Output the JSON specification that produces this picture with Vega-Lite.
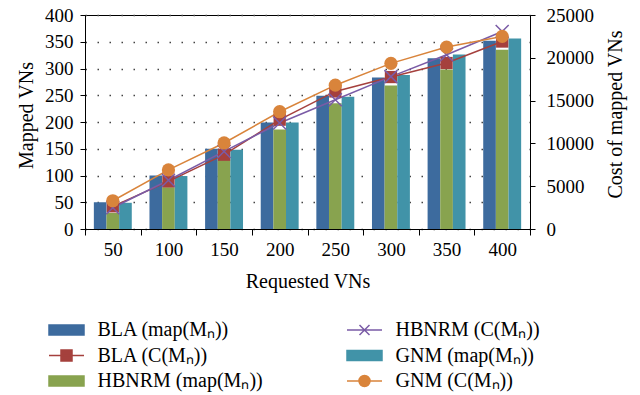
{
  "$schema": "https://vega.github.io/schema/vega-lite/v6.json",
  "width": 445,
  "height": 214,
  "autosize": {"type": "none"},
  "padding": {"left": 85, "top": 15, "right": 110, "bottom": 166},
  "background": "white",
  "datasets": {
    "bars": [
      {"n": 50, "series": "BLA (map(Mₙ))", "mapped": 50},
      {"n": 100, "series": "BLA (map(Mₙ))", "mapped": 100},
      {"n": 150, "series": "BLA (map(Mₙ))", "mapped": 150},
      {"n": 200, "series": "BLA (map(Mₙ))", "mapped": 199},
      {"n": 250, "series": "BLA (map(Mₙ))", "mapped": 249},
      {"n": 300, "series": "BLA (map(Mₙ))", "mapped": 283},
      {"n": 350, "series": "BLA (map(Mₙ))", "mapped": 319},
      {"n": 400, "series": "BLA (map(Mₙ))", "mapped": 352},
      {"n": 50, "series": "HBNRM (map(Mₙ))", "mapped": 30},
      {"n": 100, "series": "HBNRM (map(Mₙ))", "mapped": 78},
      {"n": 150, "series": "HBNRM (map(Mₙ))", "mapped": 130},
      {"n": 200, "series": "HBNRM (map(Mₙ))", "mapped": 186},
      {"n": 250, "series": "HBNRM (map(Mₙ))", "mapped": 235},
      {"n": 300, "series": "HBNRM (map(Mₙ))", "mapped": 268},
      {"n": 350, "series": "HBNRM (map(Mₙ))", "mapped": 298},
      {"n": 400, "series": "HBNRM (map(Mₙ))", "mapped": 335},
      {"n": 50, "series": "GNM (map(Mₙ))", "mapped": 49},
      {"n": 100, "series": "GNM (map(Mₙ))", "mapped": 99},
      {"n": 150, "series": "GNM (map(Mₙ))", "mapped": 148},
      {"n": 200, "series": "GNM (map(Mₙ))", "mapped": 199},
      {"n": 250, "series": "GNM (map(Mₙ))", "mapped": 247},
      {"n": 300, "series": "GNM (map(Mₙ))", "mapped": 288},
      {"n": 350, "series": "GNM (map(Mₙ))", "mapped": 326},
      {"n": 400, "series": "GNM (map(Mₙ))", "mapped": 356}
    ],
    "lines": [
      {"n": 50, "series": "BLA (C(Mₙ))", "cost": 2650},
      {"n": 100, "series": "BLA (C(Mₙ))", "cost": 5560},
      {"n": 150, "series": "BLA (C(Mₙ))", "cost": 8680},
      {"n": 200, "series": "BLA (C(Mₙ))", "cost": 12770},
      {"n": 250, "series": "BLA (C(Mₙ))", "cost": 16070},
      {"n": 300, "series": "BLA (C(Mₙ))", "cost": 17750},
      {"n": 350, "series": "BLA (C(Mₙ))", "cost": 19390},
      {"n": 400, "series": "BLA (C(Mₙ))", "cost": 21900},
      {"n": 50, "series": "HBNRM (C(Mₙ))", "cost": 2480},
      {"n": 100, "series": "HBNRM (C(Mₙ))", "cost": 5700},
      {"n": 150, "series": "HBNRM (C(Mₙ))", "cost": 9060},
      {"n": 200, "series": "HBNRM (C(Mₙ))", "cost": 12380},
      {"n": 250, "series": "HBNRM (C(Mₙ))", "cost": 15100},
      {"n": 300, "series": "HBNRM (C(Mₙ))", "cost": 17800},
      {"n": 350, "series": "HBNRM (C(Mₙ))", "cost": 20360},
      {"n": 400, "series": "HBNRM (C(Mₙ))", "cost": 23080},
      {"n": 50, "series": "GNM (C(Mₙ))", "cost": 3300},
      {"n": 100, "series": "GNM (C(Mₙ))", "cost": 6900},
      {"n": 150, "series": "GNM (C(Mₙ))", "cost": 10050},
      {"n": 200, "series": "GNM (C(Mₙ))", "cost": 13700},
      {"n": 250, "series": "GNM (C(Mₙ))", "cost": 16800},
      {"n": 300, "series": "GNM (C(Mₙ))", "cost": 19350},
      {"n": 350, "series": "GNM (C(Mₙ))", "cost": 21250},
      {"n": 400, "series": "GNM (C(Mₙ))", "cost": 22500}
    ]
  },
  "encoding": {
    "x": {
      "field": "n",
      "type": "ordinal",
      "scale": {"paddingInner": 0, "paddingOuter": 0},
      "axis": {
        "title": "Requested VNs",
        "labelAngle": 0,
        "tickBand": "extent",
        "tickSize": 6,
        "labelPadding": 20,
        "labelBaseline": "alphabetic",
        "titleBaseline": "alphabetic",
        "titleY": 58,
        "titleFontSize": 20
      }
    }
  },
  "layer": [
    {
      "data": {"name": "bars"},
      "mark": {"type": "bar"},
      "encoding": {
        "xOffset": {
          "field": "series",
          "type": "nominal",
          "scale": {"domain": ["BLA (map(Mₙ))", "HBNRM (map(Mₙ))", "GNM (map(Mₙ))"], "paddingInner": 0, "paddingOuter": 0.7}
        },
        "y": {
          "field": "mapped",
          "type": "quantitative",
          "scale": {"domain": [0, 400]},
          "axis": {
            "title": "Mapped VNs",
            "values": [0, 50, 100, 150, 200, 250, 300, 350, 400],
            "grid": true,
            "gridDash": [1.5, 10.5],
            "gridColor": "#444",
            "gridWidth": 1.5,
            "tickSize": 5,
            "labelPadding": 7,
            "titleAngle": -90,
            "titleBaseline": "alphabetic",
            "titleX": -53,
            "titleY": 100,
            "titleFontSize": 20
          }
        },
        "color": {
          "field": "series",
          "type": "nominal",
          "scale": {
            "domain": ["BLA (map(Mₙ))", "BLA (C(Mₙ))", "HBNRM (map(Mₙ))", "HBNRM (C(Mₙ))", "GNM (map(Mₙ))", "GNM (C(Mₙ))"],
            "range": ["#3d6b9e", "#a5403d", "#88a34f", "#7a5ba6", "#4193a8", "#d9843b"]
          },
          "legend": {
            "title": null,
            "orient": "none",
            "legendX": -29.5,
            "legendY": 304,
            "columns": 2,
            "columnPadding": 80,
            "rowPadding": 4.5,
            "padding": 0,
            "labelOffset": 20,
            "labelFontSize": 20,
            "labelLimit": 300,
            "symbolSize": 400,
            "symbolOpacity": 1,
            "encode": {
              "symbols": {
                "update": {
                  "shape": {"signal": "indexof(datum.value, 'map') >= 0 ? 'M-1.75,-0.5H1.75V0.5H-1.75Z' : indexof(datum.value, 'BLA') >= 0 ? 'M-1.75,0H1.75M-0.55,-0.55H0.55V0.55H-0.55Z' : indexof(datum.value, 'HBNRM') >= 0 ? 'M-1.75,0H1.75M-0.5,-0.5L0.5,0.5M-0.5,0.5L0.5,-0.5' : 'M-1.75,0H1.75M0.55,0A0.55,0.55 0 1,1 -0.55,0A0.55,0.55 0 1,1 0.55,0Z'"},
                  "fill": {"scale": "color", "field": "value"},
                  "stroke": {"scale": "color", "field": "value"},
                  "strokeWidth": {"value": 1.5},
                  "size": {"value": 400},
                  "opacity": {"value": 1}
                }
              }
            }
          }
        }
      }
    },
    {
      "data": {"name": "lines"},
      "encoding": {
        "y": {
          "field": "cost",
          "type": "quantitative",
          "scale": {"domain": [0, 25000]},
          "axis": {
            "orient": "right",
            "title": "Cost of mapped VNs",
            "values": [0, 5000, 10000, 15000, 20000, 25000],
            "format": "d",
            "grid": false,
            "tickSize": 5,
            "labelPadding": 11,
            "titleAngle": -90,
            "titleBaseline": "alphabetic",
            "titleX": 91,
            "titleY": 99,
            "titleFontSize": 20
          }
        },
        "color": {"field": "series", "type": "nominal"}
      },
      "layer": [
        {"mark": {"type": "line", "strokeWidth": 1.5}},
        {
          "transform": [{"filter": "datum.series == 'BLA (C(Mₙ))'"}],
          "mark": {"type": "point", "shape": "square", "filled": true, "size": 150, "opacity": 1}
        },
        {
          "transform": [{"filter": "datum.series == 'HBNRM (C(Mₙ))'"}],
          "mark": {"type": "point", "shape": "M-1,-1L1,1M-1,1L1,-1", "filled": false, "size": 170, "strokeWidth": 1.5, "opacity": 1}
        },
        {
          "transform": [{"filter": "datum.series == 'GNM (C(Mₙ))'"}],
          "mark": {"type": "point", "shape": "circle", "filled": true, "size": 175, "opacity": 1}
        }
      ]
    }
  ],
  "resolve": {"scale": {"y": "independent"}},
  "config": {
    "font": "Liberation Serif",
    "view": {"stroke": "#000", "strokeWidth": 1},
    "axis": {
      "domainColor": "#000",
      "tickColor": "#000",
      "labelColor": "#000",
      "titleColor": "#000",
      "labelFont": "Liberation Serif",
      "titleFont": "Liberation Serif",
      "labelFontSize": 19,
      "titleFontSize": 20,
      "titleFontWeight": "normal"
    },
    "legend": {
      "labelFont": "Liberation Serif",
      "labelColor": "#000"
    }
  }
}
